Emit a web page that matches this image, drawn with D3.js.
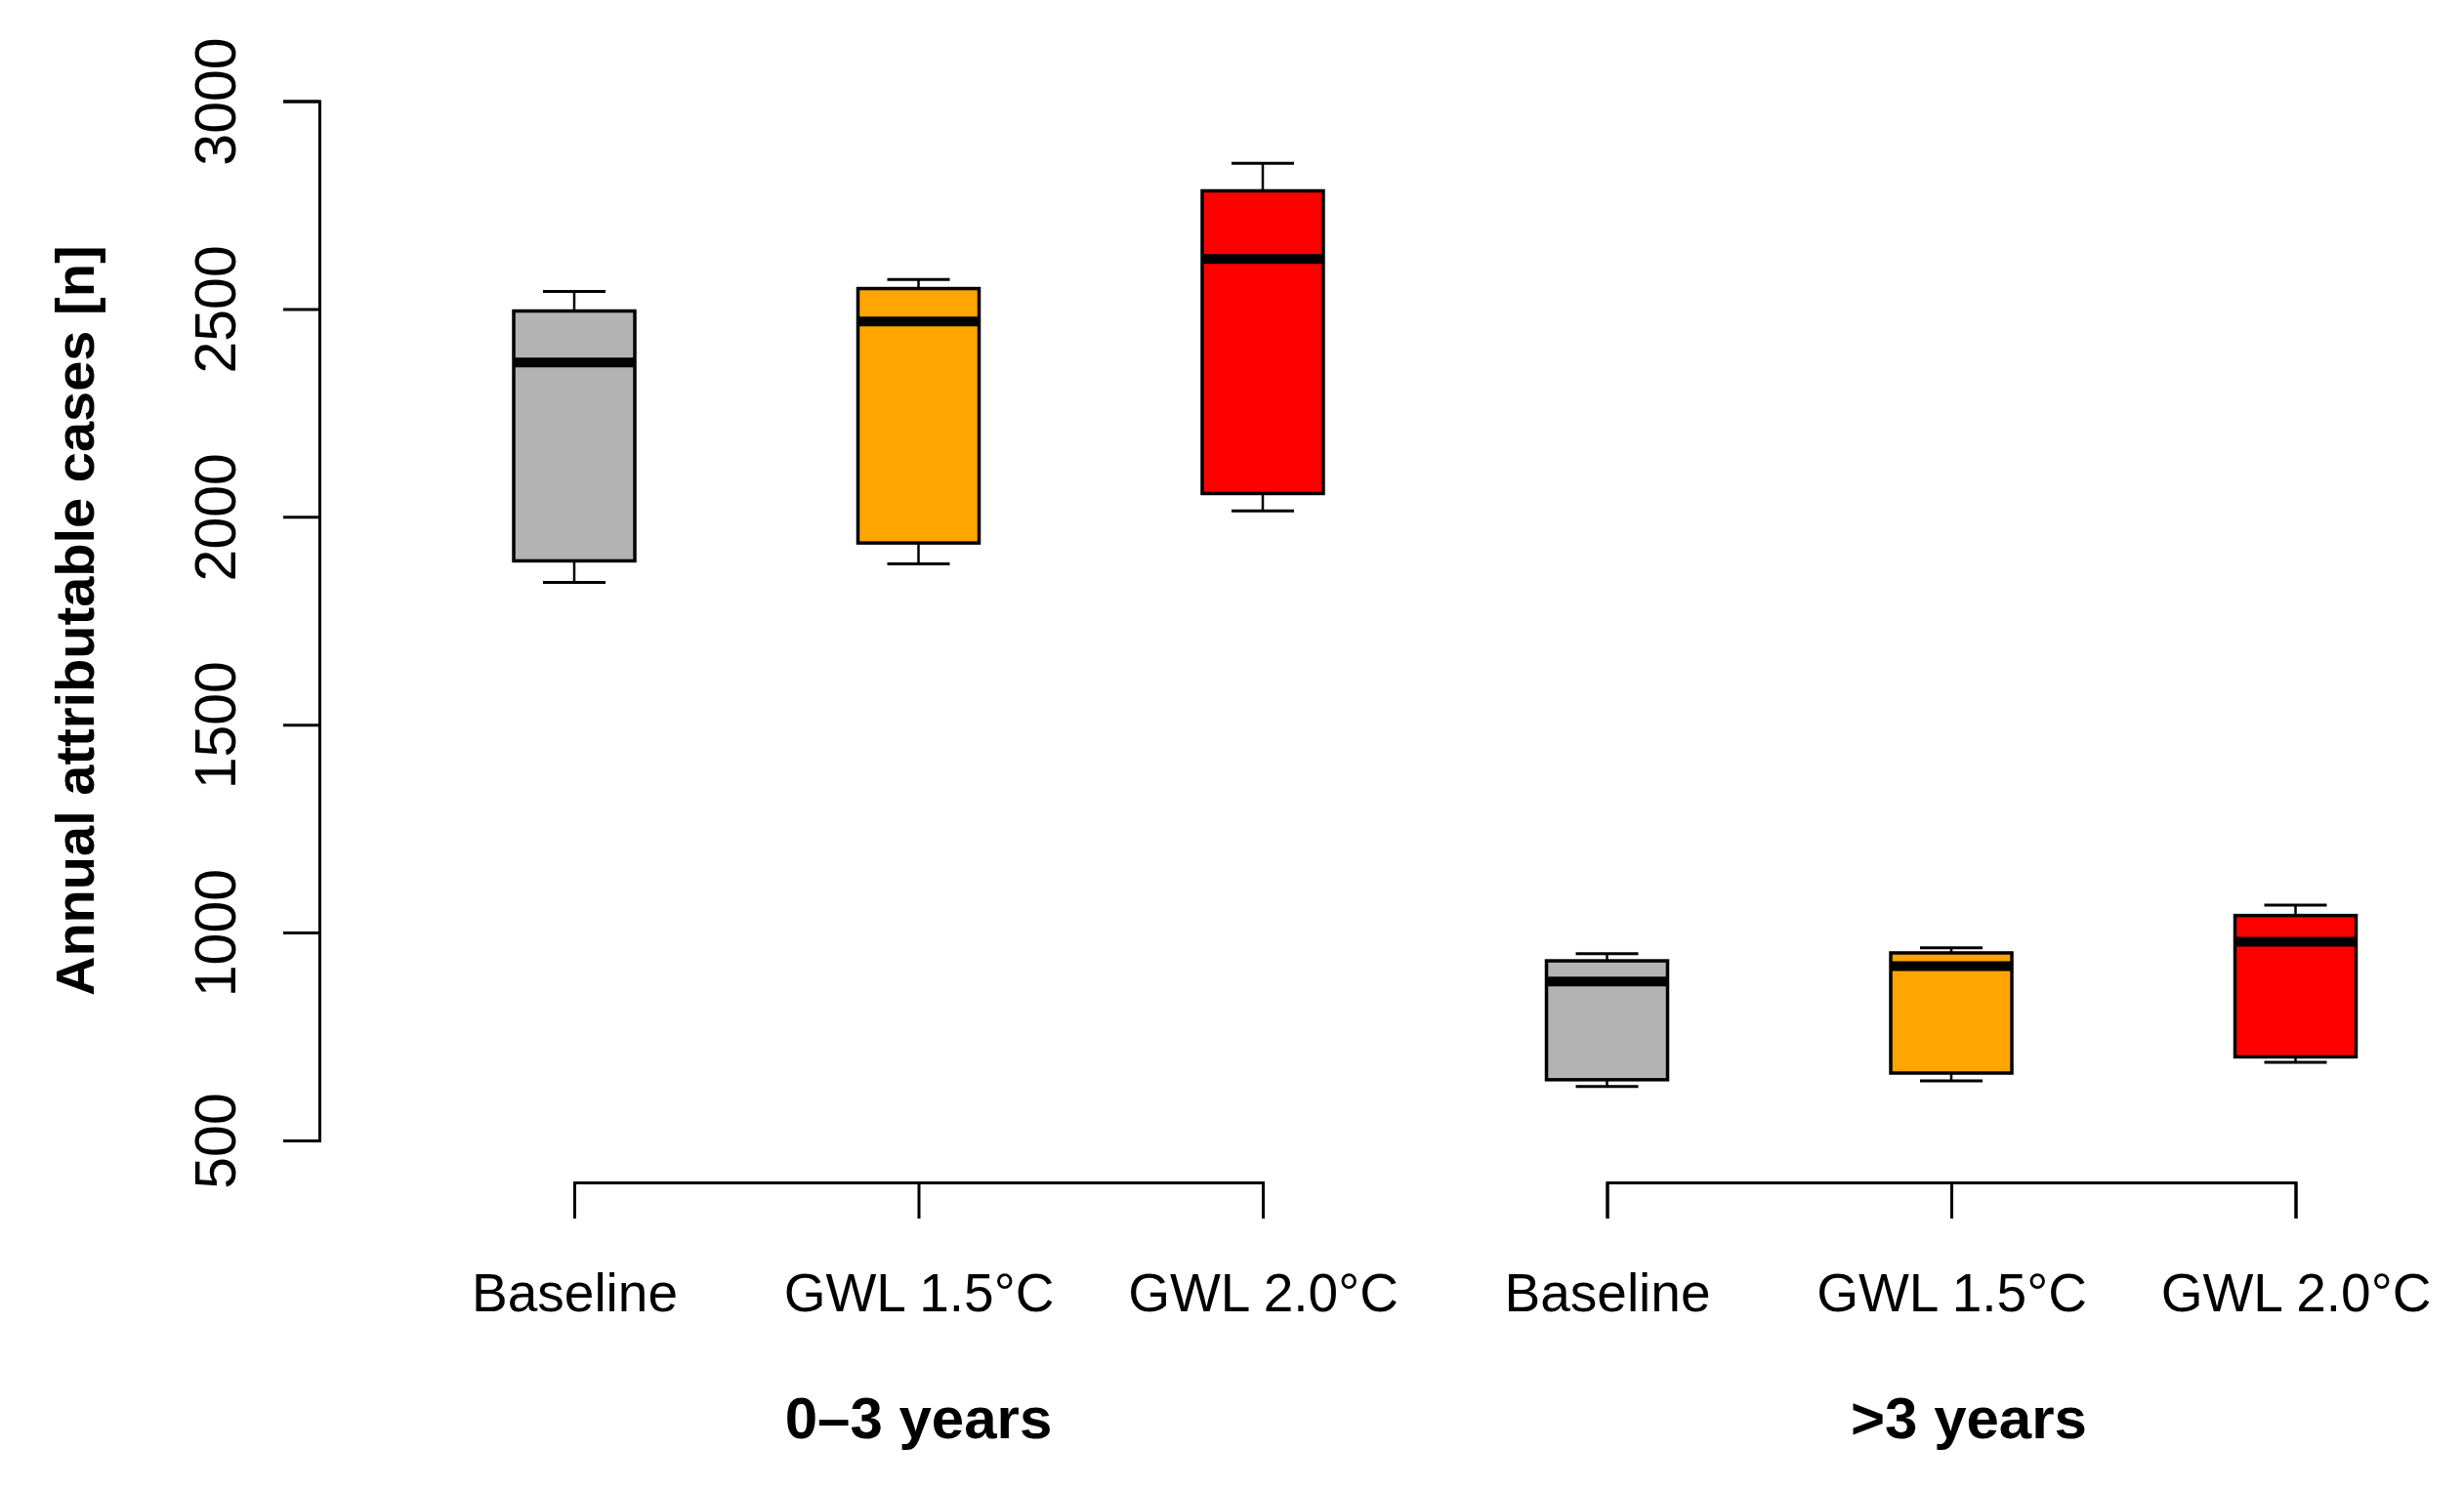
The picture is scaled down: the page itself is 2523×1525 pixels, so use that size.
<!DOCTYPE html>
<html>
<head>
<meta charset="utf-8">
<script src="https://cdn.jsdelivr.net/npm/d3@7"></script>
<style>
  body { margin: 0; background: #fff; }
  svg { display: block; font-family: "Liberation Sans", Arial, Helvetica, sans-serif; }
</style>
</head>
<body>
<svg id="chart"></svg>
<script>
// data
const groups = ["0\u20133 years", ">3 years"];
const scenarios = ["Baseline", "GWL 1.5\u00B0C", "GWL 2.0\u00B0C"];
const fills = ["#b3b3b3", "#ffa500", "#ff0000"];

const whiskerLow  = [1842, 1887, 2014, 630, 643, 688];
const q1          = [1894, 1937, 2056, 646, 662, 701];
const median      = [2371, 2470, 2620, 882, 919, 978];
const q3          = [2495, 2549, 2784, 932, 951, 1041];
const whiskerHigh = [2542, 2571, 2850, 949, 963, 1066];

const yTicks = [500, 1000, 1500, 2000, 2500, 3000];

const W = 2523, H = 1525;

const boxes = q1.map((d, i) => ({
  pos: i + 1,
  lo: whiskerLow[i], q1: q1[i], med: median[i], q3: q3[i], hi: whiskerHigh[i],
  fill: fills[i % 3]
}));

const svg = d3.select("#chart").attr("width", W).attr("height", H);

const x = d3.scaleLinear().domain([1, 6]).range([588, 2350.5]);
const y = d3.scaleLinear().domain([500, 3000]).range([1168, 103.5]);

const boxW = 124, capW = 64;

// boxes + whiskers
const g = svg.append("g");
const bx = g.selectAll(".box").data(boxes).join("g").attr("class", "box");

bx.append("line")
  .attr("x1", d => x(d.pos)).attr("x2", d => x(d.pos))
  .attr("y1", d => y(d.hi)).attr("y2", d => y(d.q3))
  .attr("stroke", "#000").attr("stroke-width", 2.5);
bx.append("line")
  .attr("x1", d => x(d.pos)).attr("x2", d => x(d.pos))
  .attr("y1", d => y(d.q1)).attr("y2", d => y(d.lo))
  .attr("stroke", "#000").attr("stroke-width", 2.5);
bx.append("line")
  .attr("x1", d => x(d.pos) - capW / 2).attr("x2", d => x(d.pos) + capW / 2)
  .attr("y1", d => y(d.hi)).attr("y2", d => y(d.hi))
  .attr("stroke", "#000").attr("stroke-width", 3);
bx.append("line")
  .attr("x1", d => x(d.pos) - capW / 2).attr("x2", d => x(d.pos) + capW / 2)
  .attr("y1", d => y(d.lo)).attr("y2", d => y(d.lo))
  .attr("stroke", "#000").attr("stroke-width", 3);

bx.append("rect")
  .attr("x", d => x(d.pos) - boxW / 2)
  .attr("width", boxW)
  .attr("y", d => y(d.q3))
  .attr("height", d => y(d.q1) - y(d.q3))
  .attr("fill", d => d.fill)
  .attr("stroke", "#000").attr("stroke-width", 3.5);

bx.append("line")
  .attr("x1", d => x(d.pos) - boxW / 2).attr("x2", d => x(d.pos) + boxW / 2)
  .attr("y1", d => y(d.med)).attr("y2", d => y(d.med))
  .attr("stroke", "#000").attr("stroke-width", 10);

// y axis
const yAxis = svg.append("g")
  .attr("transform", "translate(327,0)")
  .call(d3.axisLeft(y).tickValues(yTicks).tickSize(37).tickFormat(d3.format("d")));
yAxis.select(".domain").attr("stroke-width", 3);
yAxis.selectAll(".tick line").attr("stroke-width", 3);
yAxis.selectAll(".tick text")
  .attr("x", null).attr("dy", null)
  .attr("transform", "translate(-86,0) rotate(-90)")
  .attr("text-anchor", "middle")
  .attr("fill", "#000")
  .style("font-size", "59px");

// grouped x axes (one bracket per age group)
groups.forEach((name, gi) => {
  const p0 = gi * 3 + 1, p1 = gi * 3 + 3;
  const xs = d3.scaleLinear().domain([p0, p1]).range([x(p0), x(p1)]);
  const ax = svg.append("g")
    .attr("transform", "translate(0,1211)")
    .call(d3.axisBottom(xs).tickValues([p0, p0 + 1, p1]).tickSize(37)
      .tickFormat(d => scenarios[d - p0]));
  ax.select(".domain").attr("stroke-width", 3);
  ax.selectAll(".tick line").attr("stroke-width", 3);
  ax.selectAll(".tick text")
    .attr("y", 131.5).attr("dy", null)
    .attr("fill", "#000")
    .style("font-size", "55px");

  svg.append("text")
    .attr("x", gi === 0 ? x(p0 + 1) : x(p0 + 1) + 18)
    .attr("y", 1473)
    .attr("text-anchor", "middle")
    .style("font-size", "60px")
    .style("font-weight", "bold")
    .text(name);
});

// y axis title
svg.append("text")
  .attr("transform", "translate(96," + (y(500) + y(3000)) / 2 + ") rotate(-90)")
  .attr("text-anchor", "middle")
  .style("font-size", "56px")
  .style("font-weight", "bold")
  .text("Annual attributable cases [n]");
</script>
</body>
</html>
